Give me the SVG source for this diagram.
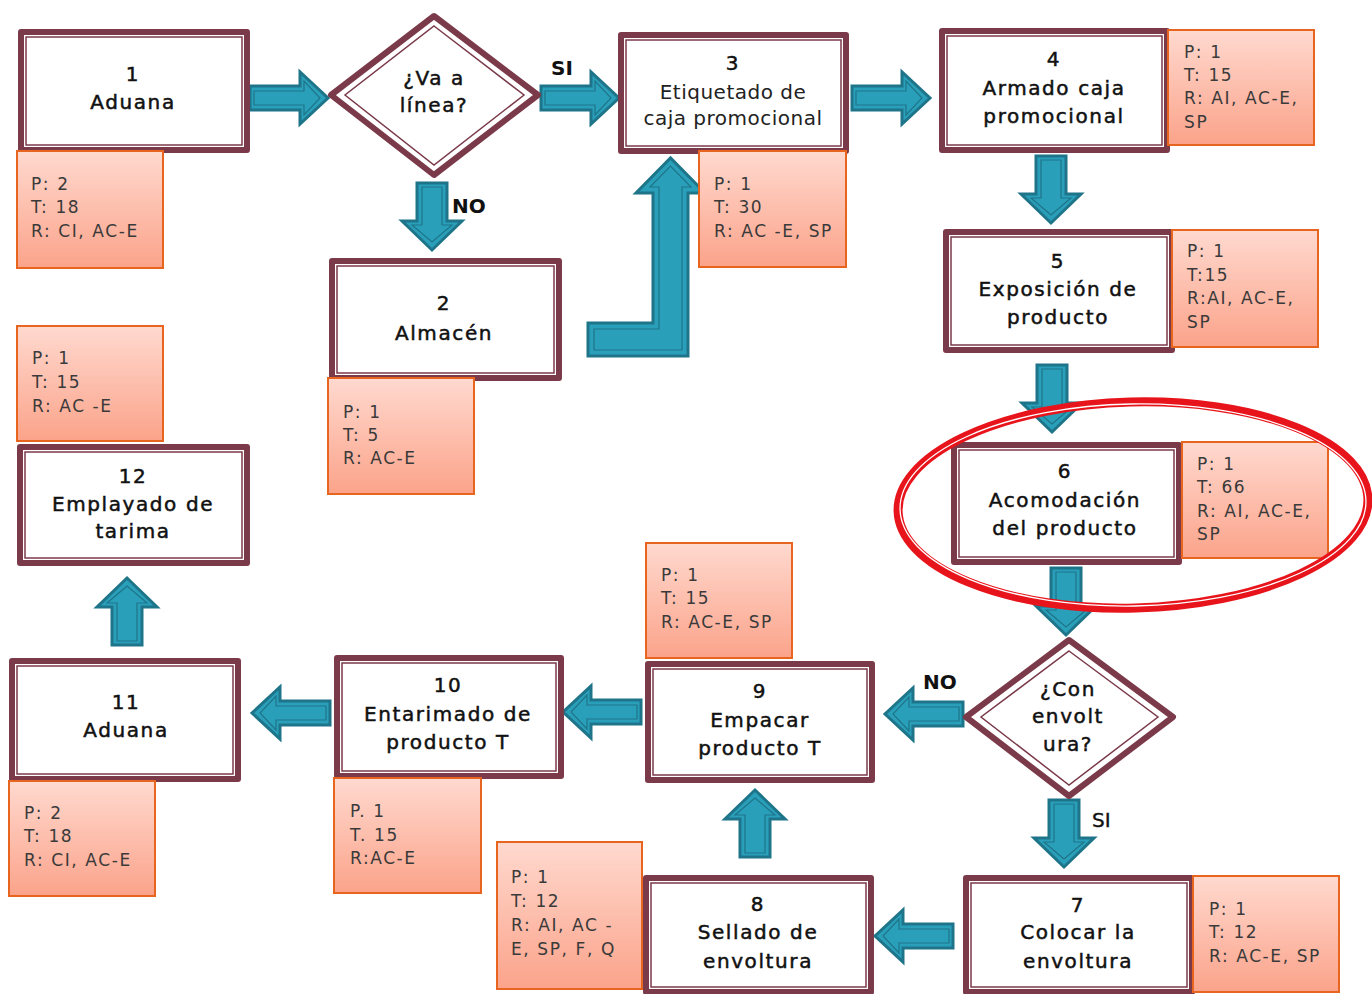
<svg xmlns="http://www.w3.org/2000/svg" width="1372" height="994" viewBox="0 0 1372 994">
<style>
.nb{fill:#fff;stroke:#7b3a4a;stroke-width:6;stroke-linejoin:round}
.ni{fill:none;stroke:#7b3a4a;stroke-width:1.5}
.ib{fill:url(#ig);stroke:#e8651f;stroke-width:2}
.t{font-family:"DejaVu Sans",sans-serif;font-size:20px;letter-spacing:1.6px;text-anchor:middle;fill:#111;stroke:#111;stroke-width:0.5}
.t3{font-family:"DejaVu Sans",sans-serif;font-size:20px;letter-spacing:0.5px;text-anchor:middle;fill:#222}
.it{font-family:"DejaVu Sans",sans-serif;font-size:17px;letter-spacing:1.6px;fill:#3a3a3a}
.lb{font-family:"DejaVu Sans",sans-serif;font-size:20px;font-weight:bold;fill:#111}
.ao{fill:#2a9fba;stroke:#1e7589;stroke-width:3;stroke-linejoin:miter}
.ai{fill:none;stroke:#1e7589;stroke-width:1.2}
</style>
<defs>
<linearGradient id="ig" x1="0" y1="0" x2="0" y2="1">
<stop offset="0" stop-color="#ffd9cf"/>
<stop offset="1" stop-color="#fba38a"/>
</linearGradient>
<g id="ah">
<path class="ao" d="M0,-12 H50 V-26 L78,0 L50,26 V12 H0 Z"/>
<path class="ai" d="M4,-7 H54 V-17 L70,0 L54,17 V7 H4 Z"/>
</g>
<g id="av">
<path class="ao" d="M-15,0 V38 H-30 L0,67 L30,38 H15 V0 Z"/>
<path class="ai" d="M-10,4 V42 H-20 L0,59 L20,42 H10 V4 Z"/>
</g>
</defs>
<rect width="1372" height="994" fill="#fff"/>

<g id="connectors">
<use href="#ah" transform="translate(250,98)"/>
<use href="#ah" transform="translate(541,98)"/>
<use href="#ah" transform="translate(852,98)"/>
<use href="#av" transform="translate(432,183)"/>
<use href="#av" transform="translate(1051,156)"/>
<use href="#av" transform="translate(1052,365)"/>
<use href="#av" transform="translate(1066,568)"/>
<use href="#av" transform="translate(1064,800)"/>
<use href="#ah" transform="translate(963,714) rotate(180)"/>
<use href="#ah" transform="translate(953,936) rotate(180)"/>
<use href="#ah" transform="translate(641,712) rotate(180)"/>
<use href="#ah" transform="translate(330,713) rotate(180)"/>
<use href="#av" transform="translate(755,857) rotate(180)"/>
<use href="#av" transform="translate(127,645) rotate(180)"/>
<path class="ao" d="M588,323 H653 V193 H636 L670.5,158 L705,193 H688 V356 H588 Z"/>
<path class="ai" d="M594,329 H659 V187 H650 L670.5,166 L691,187 H682 V350 H594 Z"/>
<text class="lb" x="551" y="75">SI</text>
<text class="lb" x="452" y="213">NO</text>
<text class="lb" x="923" y="689">NO</text>
<text class="lb" x="1092" y="827" style="font-weight:normal;stroke:#111;stroke-width:0.4">SI</text>
</g>

<g id="n1">
<rect class="nb" x="21" y="32" width="226" height="118"/>
<rect class="ni" x="26" y="37" width="216" height="108"/>
<text class="t" x="133" y="81">1</text>
<text class="t" x="133" y="109">Aduana</text>
</g>
<g id="i1">
<rect class="ib" x="17" y="151" width="146" height="117"/>
<text class="it" x="31" y="190">P: 2</text>
<text class="it" x="31" y="213">T: 18</text>
<text class="it" x="31" y="237">R: CI, AC-E</text>
</g>

<g id="d1">
<polygon class="nb" points="434,16 538,95 434,175 331,95"/>
<polygon class="ni" points="434,26 524,95 434,165 345,95"/>
<text class="t" x="434" y="85">¿Va a</text>
<text class="t" x="434" y="112">línea?</text>
</g>

<g id="n2">
<rect class="nb" x="332" y="261" width="227" height="117"/>
<rect class="ni" x="337" y="266" width="217" height="107"/>
<text class="t" x="444" y="310">2</text>
<text class="t" x="444" y="340">Almacén</text>
</g>
<g id="i2">
<rect class="ib" x="328" y="378" width="146" height="116"/>
<text class="it" x="343" y="418">P: 1</text>
<text class="it" x="343" y="441">T: 5</text>
<text class="it" x="343" y="464">R: AC-E</text>
</g>

<g id="n3">
<rect class="nb" x="621" y="35" width="225" height="116"/>
<rect class="ni" x="626" y="40" width="215" height="106"/>
<text class="t" x="733" y="70">3</text>
<text class="t3" x="733" y="99">Etiquetado de</text>
<text class="t3" x="733" y="125">caja promocional</text>
</g>
<g id="i3">
<rect class="ib" x="699" y="151" width="147" height="116"/>
<text class="it" x="714" y="190">P: 1</text>
<text class="it" x="714" y="213">T: 30</text>
<text class="it" x="714" y="237">R: AC -E, SP</text>
</g>

<g id="n4">
<rect class="nb" x="942" y="31" width="225" height="119"/>
<rect class="ni" x="947" y="36" width="215" height="109"/>
<text class="t" x="1054" y="66">4</text>
<text class="t" x="1054" y="95">Armado caja</text>
<text class="t" x="1054" y="123">promocional</text>
</g>
<g id="i4">
<rect class="ib" x="1168" y="30" width="146" height="115"/>
<text class="it" x="1184" y="58">P: 1</text>
<text class="it" x="1184" y="81">T: 15</text>
<text class="it" x="1184" y="104">R: AI, AC-E,</text>
<text class="it" x="1184" y="128">SP</text>
</g>

<g id="n5">
<rect class="nb" x="946" y="232" width="226" height="118"/>
<rect class="ni" x="951" y="237" width="216" height="108"/>
<text class="t" x="1058" y="268">5</text>
<text class="t" x="1058" y="296">Exposición de</text>
<text class="t" x="1058" y="324">producto</text>
</g>
<g id="i5">
<rect class="ib" x="1172" y="230" width="146" height="117"/>
<text class="it" x="1187" y="257">P: 1</text>
<text class="it" x="1187" y="281">T:15</text>
<text class="it" x="1187" y="304">R:AI, AC-E,</text>
<text class="it" x="1187" y="328">SP</text>
</g>

<g id="n6">
<rect class="nb" x="954" y="445" width="225" height="117"/>
<rect class="ni" x="959" y="450" width="215" height="107"/>
<text class="t" x="1065" y="478">6</text>
<text class="t" x="1065" y="507">Acomodación</text>
<text class="t" x="1065" y="535">del producto</text>
</g>
<g id="i6">
<rect class="ib" x="1182" y="442" width="146" height="116"/>
<text class="it" x="1197" y="470">P: 1</text>
<text class="it" x="1197" y="493">T: 66</text>
<text class="it" x="1197" y="517">R: AI, AC-E,</text>
<text class="it" x="1197" y="540">SP</text>
</g>

<g id="d2">
<polygon class="nb" points="1069,640 1173,717 1069,796 966,717"/>
<polygon class="ni" points="1069,651 1158,717 1069,785 981,717"/>
<text class="t" x="1068" y="696">¿Con</text>
<text class="t" x="1068" y="723">envolt</text>
<text class="t" x="1068" y="751">ura?</text>
</g>

<g id="n7">
<rect class="nb" x="966" y="878" width="226" height="114"/>
<rect class="ni" x="971" y="883" width="216" height="104"/>
<text class="t" x="1078" y="912">7</text>
<text class="t" x="1078" y="939">Colocar la</text>
<text class="t" x="1078" y="968">envoltura</text>
</g>
<g id="i7">
<rect class="ib" x="1193" y="876" width="146" height="116"/>
<text class="it" x="1209" y="915">P: 1</text>
<text class="it" x="1209" y="938">T: 12</text>
<text class="it" x="1209" y="962">R: AC-E, SP</text>
</g>

<g id="n8">
<rect class="nb" x="646" y="878" width="225" height="114"/>
<rect class="ni" x="651" y="883" width="215" height="104"/>
<text class="t" x="758" y="911">8</text>
<text class="t" x="758" y="939">Sellado de</text>
<text class="t" x="758" y="968">envoltura</text>
</g>
<g id="i8">
<rect class="ib" x="497" y="842" width="145" height="147"/>
<text class="it" x="511" y="883">P: 1</text>
<text class="it" x="511" y="907">T: 12</text>
<text class="it" x="511" y="931">R: AI, AC -</text>
<text class="it" x="511" y="955">E, SP, F, Q</text>
</g>

<g id="n9">
<rect class="nb" x="648" y="664" width="224" height="116"/>
<rect class="ni" x="653" y="669" width="214" height="106"/>
<text class="t" x="760" y="698">9</text>
<text class="t" x="760" y="727">Empacar</text>
<text class="t" x="760" y="755">producto T</text>
</g>
<g id="i9">
<rect class="ib" x="646" y="543" width="146" height="115"/>
<text class="it" x="661" y="581">P: 1</text>
<text class="it" x="661" y="604">T: 15</text>
<text class="it" x="661" y="628">R: AC-E, SP</text>
</g>

<g id="n10">
<rect class="nb" x="337" y="658" width="224" height="118"/>
<rect class="ni" x="342" y="663" width="214" height="108"/>
<text class="t" x="448" y="692">10</text>
<text class="t" x="448" y="721">Entarimado de</text>
<text class="t" x="448" y="749">producto T</text>
</g>
<g id="i10">
<rect class="ib" x="334" y="778" width="147" height="115"/>
<text class="it" x="350" y="817">P. 1</text>
<text class="it" x="350" y="841">T. 15</text>
<text class="it" x="350" y="864">R:AC-E</text>
</g>

<g id="n11">
<rect class="nb" x="12" y="661" width="226" height="118"/>
<rect class="ni" x="17" y="666" width="216" height="108"/>
<text class="t" x="126" y="709">11</text>
<text class="t" x="126" y="737">Aduana</text>
</g>
<g id="i11">
<rect class="ib" x="9" y="781" width="146" height="115"/>
<text class="it" x="24" y="819">P: 2</text>
<text class="it" x="24" y="842">T: 18</text>
<text class="it" x="24" y="866">R: CI, AC-E</text>
</g>

<g id="n12">
<rect class="nb" x="20" y="447" width="227" height="116"/>
<rect class="ni" x="25" y="452" width="217" height="106"/>
<text class="t" x="133" y="483">12</text>
<text class="t" x="133" y="511">Emplayado de</text>
<text class="t" x="133" y="538">tarima</text>
</g>
<g id="i12">
<rect class="ib" x="17" y="326" width="146" height="115"/>
<text class="it" x="32" y="364">P: 1</text>
<text class="it" x="32" y="388">T: 15</text>
<text class="it" x="32" y="412">R: AC -E</text>
</g>

<g id="highlight">
<ellipse cx="1133" cy="505" rx="235" ry="103" fill="none" stroke="#e8141b" stroke-width="9" transform="rotate(-1.5 1133 505)"/>
<ellipse cx="1133" cy="505" rx="233" ry="101" fill="none" stroke="#fff" stroke-width="1.3" transform="rotate(-1 1133 505)"/>
</g>
</svg>
